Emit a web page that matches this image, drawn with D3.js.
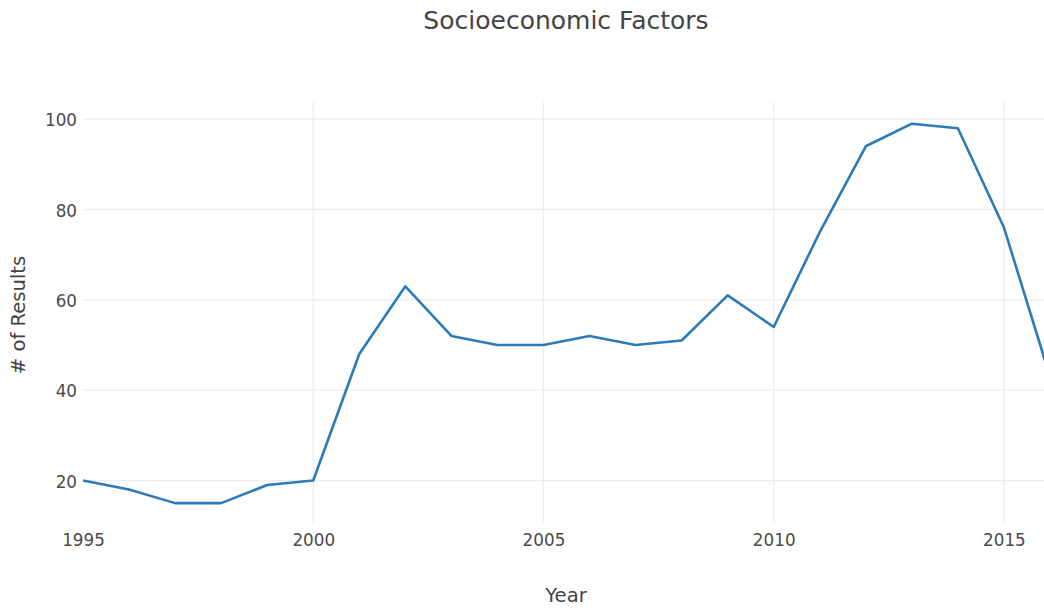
<!DOCTYPE html>
<html>
<head>
<meta charset="utf-8">
<script src="https://cdn.jsdelivr.net/npm/d3@7"></script>
<style>
  html, body { margin: 0; padding: 0; background: #fff; }
  svg { display: block; font-family: "DejaVu Sans", Verdana, sans-serif; }
</style>
</head>
<body>
<svg id="chart" width="1044" height="608"></svg>
<script>
// Values.
var years = [1995, 1996, 1997, 1998, 1999, 2000, 2001, 2002, 2003, 2004, 2005,
             2006, 2007, 2008, 2009, 2010, 2011, 2012, 2013, 2014, 2015, 2016];
var results = [20, 18, 15, 15, 19, 20, 48, 63, 52, 50, 50,
               52, 50, 51, 61, 54, 75, 94, 99, 98, 76, 43];
var xTicks = [1995, 2000, 2005, 2010, 2015];
var yTicks = [20, 40, 60, 80, 100];

var svg = d3.select('#chart');
var width = +svg.attr('width');
var height = +svg.attr('height');

// Plot area (the right edge runs past the window, as in the original).
var plotLeft = 83, plotRight = 1050, plotTop = 102, plotBottom = 523;

var x = d3.scaleLinear().domain([1995, 2016]).range([plotLeft, plotRight]);
var y = d3.scaleLinear().domain([10.6, 103.8]).range([plotBottom, plotTop]);

// Title.
svg.append('text')
  .attr('x', 566)
  .attr('y', 29)
  .attr('text-anchor', 'middle')
  .attr('fill', '#444')
  .attr('font-size', 25)
  .text('Socioeconomic Factors');

// Gridlines.
var grid = svg.append('g').attr('class', 'grid');
grid.selectAll('line.h')
  .data(yTicks)
  .enter().append('line')
    .attr('class', 'h')
    .attr('x1', plotLeft).attr('x2', width)
    .attr('y1', function(d) { return y(d); })
    .attr('y2', function(d) { return y(d); })
    .attr('stroke', '#eee')
    .attr('stroke-width', 1.3);
grid.selectAll('line.v')
  .data(xTicks.slice(1))
  .enter().append('line')
    .attr('class', 'v')
    .attr('y1', plotTop).attr('y2', plotBottom)
    .attr('x1', function(d) { return x(d); })
    .attr('x2', function(d) { return x(d); })
    .attr('stroke', '#eee')
    .attr('stroke-width', 1.3);

// Axes, without domain lines or tick marks.
var xAxis = svg.append('g')
  .attr('transform', 'translate(0,' + plotBottom + ')')
  .call(d3.axisBottom(x).tickValues(xTicks).tickFormat(d3.format('d')).tickSize(0).tickPadding(11));
var yAxis = svg.append('g')
  .attr('transform', 'translate(' + plotLeft + ',0)')
  .call(d3.axisLeft(y).tickValues(yTicks).tickSize(0).tickPadding(6));
[xAxis, yAxis].forEach(function(a) {
  a.select('.domain').remove();
  a.selectAll('text')
    .attr('fill', '#4a4a4a')
    .attr('font-size', 16.8)
    .attr('font-family', '"DejaVu Sans", Verdana, sans-serif');
});
yAxis.selectAll('text').attr('dy', '0.4em');

// Axis titles.
svg.append('text')
  .attr('x', 566)
  .attr('y', 602)
  .attr('text-anchor', 'middle')
  .attr('fill', '#444')
  .attr('font-size', 19.6)
  .text('Year');
svg.append('text')
  .attr('transform', 'translate(25,315) rotate(-90)')
  .attr('text-anchor', 'middle')
  .attr('fill', '#444')
  .attr('font-size', 19.6)
  .text('# of Results');

// The line.
var line = d3.line()
  .x(function(d, i) { return x(years[i]); })
  .y(function(d) { return y(d); });

svg.append('path')
  .datum(results)
  .attr('d', line)
  .attr('fill', 'none')
  .attr('stroke', '#2c7bb6')
  .attr('stroke-width', 2.6)
  .attr('stroke-linejoin', 'round');
</script>
</body>
</html>
